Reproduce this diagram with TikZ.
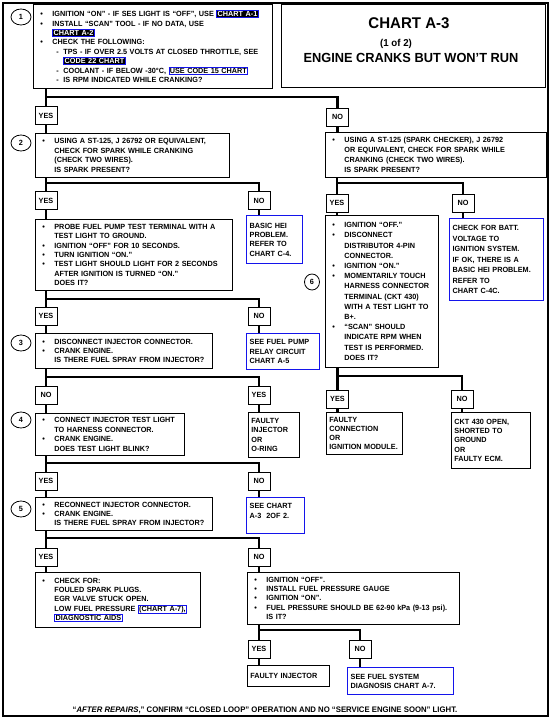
\documentclass[tikz,border=0pt]{standalone}
\usepackage{fontspec}
\setmainfont[FakeStretch=0.97]{Liberation Sans}
\usetikzlibrary{shapes.geometric}
\definecolor{hlblue}{RGB}{20,20,235}
\newcommand\chartfont{\fontsize{7.5}{9.4}\selectfont\bfseries}
\newcommand\bul{\makebox[16pt][l]{\hspace{4pt}\textbullet}}
\newcommand\ind{\hspace*{16pt}}
\newcommand\subd{\makebox[27pt][l]{\hspace{20pt}-}}
\newcommand\subind{\hspace*{27pt}}
\newcommand\hlinv[1]{{\setlength\fboxsep{0.4pt}\setlength\fboxrule{0.9pt}\fcolorbox{hlblue}{black}{\color{white}#1}}}
\newcommand\hlbox[1]{{\setlength\fboxsep{0.4pt}\setlength\fboxrule{0.9pt}\fcolorbox{hlblue}{white}{#1}}}
\tikzset{
  stepbox/.style={draw, line width=0.8pt, anchor=north west, align=left,
    inner xsep=3pt, inner ysep=2pt, font=\chartfont},
  refbox/.style={stepbox, draw=hlblue, line width=1.3pt},
  answer/.style={draw, line width=0.8pt, minimum width=22pt, minimum height=18pt,
    inner sep=0pt, font=\chartfont},
  stepnum/.style={draw, ellipse, line width=0.8pt, minimum width=20pt,
    minimum height=16pt, inner sep=0pt, font=\chartfont},
  conn/.style={line width=2.2pt},
}
\begin{document}
\begin{tikzpicture}[x=1pt,y=-1pt]
\useasboundingbox (0,0) rectangle (552,719);
\draw [line width=1.4pt] (3,3) rectangle (548,716);
% title
\draw [line width=0.9pt] (281,4) rectangle (545,87);
\node [font=\fontsize{15.5}{18}\selectfont\bfseries] (title) at (409,23) {CHART A-3};
\node [font=\fontsize{10}{12}\selectfont\bfseries] (part) at (396,44) {(1 of 2)};
\node [font=\fontsize{13.2}{15}\selectfont\bfseries] (subtitle) at (411,58) {ENGINE CRANKS BUT WON'T RUN};
% step numbers
\node [stepnum] (c1) at (21,17) {1};
\node [stepnum] (c2) at (21,143) {2};
\node [stepnum] (c3) at (21,343) {3};
\node [stepnum] (c4) at (21,420) {4};
\node [stepnum] (c5) at (21,509) {5};
\node [stepnum, minimum width=15pt] (c6) at (312,282) {6};
% steps
\node [stepbox, text width=233pt, minimum height=84pt] (s1) at (33,4)
  {\bul IGNITION ``ON'' - IF SES LIGHT IS ``OFF'', USE \hlinv{CHART A-1}\\
   \bul INSTALL ``SCAN'' TOOL - IF NO DATA, USE\\
   \ind\hlinv{CHART A-2}\\
   \bul CHECK THE FOLLOWING:\\
   \subd TPS - IF OVER 2.5 VOLTS AT CLOSED THROTTLE, SEE\\
   \subind\hlinv{CODE 22 CHART}\\
   \subd COOLANT - IF BELOW -30°C, \hlbox{USE CODE 15 CHART}\\
   \subd IS RPM INDICATED WHILE CRANKING?};
\node [stepbox, text width=188pt, minimum height=44pt] (s2) at (35,133)
  {\bul USING A ST-125, J 26792 OR EQUIVALENT,\\
   \ind CHECK FOR SPARK WHILE CRANKING\\
   \ind (CHECK TWO WIRES).\\
   \ind IS SPARK PRESENT?};
\node [stepbox, text width=215pt, minimum height=45pt,
  font=\fontsize{7.5}{10}\selectfont\bfseries] (s2r) at (325,132)
  {\bul USING A ST-125 (SPARK CHECKER), J 26792\\
   \ind OR EQUIVALENT, CHECK FOR SPARK WHILE\\
   \ind CRANKING (CHECK TWO WIRES).\\
   \ind IS SPARK PRESENT?};
\node [stepbox, text width=191pt, minimum height=71pt] (s3) at (35,219)
  {\bul PROBE FUEL PUMP TEST TERMINAL WITH A\\
   \ind TEST LIGHT TO GROUND.\\
   \bul IGNITION ``OFF'' FOR 10 SECONDS.\\
   \bul TURN IGNITION ``ON.''\\
   \bul TEST LIGHT SHOULD LIGHT FOR 2 SECONDS\\
   \ind AFTER IGNITION IS TURNED ``ON.''\\
   \ind DOES IT?};
\node [refbox, text width=50pt, minimum height=48pt] (hei) at (246,215)
  {BASIC HEI\\PROBLEM.\\REFER TO\\CHART C-4.};
\node [stepbox, text width=107pt, minimum height=152pt,
  font=\fontsize{7.5}{10.2}\selectfont\bfseries] (s6) at (325,215)
  {\bul IGNITION ``OFF.''\\
   \bul DISCONNECT\\
   \ind DISTRIBUTOR 4-PIN\\
   \ind CONNECTOR.\\
   \bul IGNITION ``ON.''\\
   \bul MOMENTARILY TOUCH\\
   \ind HARNESS CONNECTOR\\
   \ind TERMINAL (CKT 430)\\
   \ind WITH A TEST LIGHT TO\\
   \ind B+.\\
   \bul ``SCAN'' SHOULD\\
   \ind INDICATE RPM WHEN\\
   \ind TEST IS PERFORMED.\\
   \ind DOES IT?};
\node [refbox, text width=88pt, minimum height=82pt,
  font=\fontsize{7.5}{10.5}\selectfont\bfseries] (batt) at (449,218)
  {CHECK FOR BATT.\\VOLTAGE TO\\IGNITION SYSTEM.\\IF OK, THERE IS A\\
   BASIC HEI PROBLEM.\\REFER TO\\CHART C-4C.};
\node [stepbox, text width=171pt, minimum height=35pt] (s3b) at (35,333)
  {\bul DISCONNECT INJECTOR CONNECTOR.\\
   \bul CRANK ENGINE.\\
   \ind IS THERE FUEL SPRAY FROM INJECTOR?};
\node [refbox, text width=67pt, minimum height=36pt] (pump) at (246,333)
  {SEE FUEL PUMP\\RELAY CIRCUIT\\CHART A-5};
\node [stepbox, text width=143pt, minimum height=42pt] (s4) at (35,413)
  {\bul CONNECT INJECTOR TEST LIGHT\\
   \ind TO HARNESS CONNECTOR.\\
   \bul CRANK ENGINE.\\
   \ind DOES TEST LIGHT BLINK?};
\node [stepbox, text width=45pt, minimum height=45pt] (oring) at (248,412)
  {FAULTY\\INJECTOR\\OR\\O-RING};
\node [stepbox, text width=70pt, minimum height=42pt,
  font=\fontsize{7.5}{9}\selectfont\bfseries] (fconn) at (326,412)
  {FAULTY\\CONNECTION\\OR\\IGNITION MODULE.};
\node [stepbox, text width=73pt, minimum height=56pt] (ckt) at (451,412)
  {CKT 430 OPEN,\\SHORTED TO\\GROUND\\OR\\FAULTY ECM.};
\node [stepbox, text width=171pt, minimum height=33pt] (s5) at (35,497)
  {\bul RECONNECT INJECTOR CONNECTOR.\\
   \bul CRANK ENGINE.\\
   \ind IS THERE FUEL SPRAY FROM INJECTOR?};
\node [refbox, text width=52pt, minimum height=36pt] (other) at (246,497)
  {SEE CHART\\A-3~~2OF 2.\\~};
\node [stepbox, text width=159pt, minimum height=55pt] (plugs) at (35,572)
  {\bul CHECK FOR:\\
   \ind FOULED SPARK PLUGS.\\
   \ind EGR VALVE STUCK OPEN.\\
   \ind LOW FUEL PRESSURE \hlbox{(CHART A-7),}\\
   \ind\hlbox{DIAGNOSTIC AIDS}};
\node [stepbox, text width=206pt, minimum height=52pt] (gauge) at (247,572)
  {\bul IGNITION ``OFF''.\\
   \bul INSTALL FUEL PRESSURE GAUGE\\
   \bul IGNITION ``ON''.\\
   \bul FUEL PRESSURE SHOULD BE 62-90 kPa (9-13 psi).\\
   \ind IS IT?};
\node [stepbox, text width=76pt, minimum height=21pt] (finj) at (247,665)
  {FAULTY INJECTOR};
\node [refbox, text width=100pt, minimum height=27pt] (fsys) at (347,667)
  {SEE FUEL SYSTEM\\DIAGNOSIS CHART A-7.};
% answers
\node [answer] (y1) at (46,115.5) {YES};
\node [answer] (n1) at (337.5,117) {NO};
\node [answer] (y2) at (46,200.5) {YES};
\node [answer] (n2) at (259,200.5) {NO};
\node [answer] (y2r) at (337,203) {YES};
\node [answer] (n2r) at (463,203) {NO};
\node [answer] (y3) at (46,316) {YES};
\node [answer] (n3) at (259,316) {NO};
\node [answer] (n4) at (46,395) {NO};
\node [answer] (y4) at (259,395) {YES};
\node [answer] (y6) at (337.5,399) {YES};
\node [answer] (n6) at (462,399) {NO};
\node [answer] (y5) at (46,481) {YES};
\node [answer] (n5) at (259,481) {NO};
\node [answer] (y7) at (46,557) {YES};
\node [answer] (n7) at (259,557) {NO};
\node [answer] (y8) at (259,649) {YES};
\node [answer] (n8) at (360,649) {NO};
% junctions
\coordinate (j1) at (46,97);
\coordinate (j2) at (46,183);
\coordinate (j2r) at (337,183);
\coordinate (j3) at (46,299);
\coordinate (j4) at (46,377);
\coordinate (j6) at (337.5,376);
\coordinate (j5) at (46,463);
\coordinate (j7) at (46,538);
\coordinate (j8) at (259,630);
% connectors
\draw [conn] (s1.south -| y1) -- (y1.north);
\draw [conn] (j1) -| (n1.north);
\draw [conn] (y1.south) -- (y1.south |- s2.north);
\draw [conn] (n1.south) -- (n1.south |- s2r.north);
\draw [conn] (s2.south -| y2) -- (y2.north);
\draw [conn] (j2) -| (n2.north);
\draw [conn] (y2.south) -- (y2.south |- s3.north);
\draw [conn] (n2.south) -- (n2.south |- hei.north);
\draw [conn] (s2r.south -| y2r) -- (y2r.north);
\draw [conn] (j2r) -| (n2r.north);
\draw [conn] (y2r.south) -- (y2r.south |- s6.north);
\draw [conn] (n2r.south) -- (n2r.south |- batt.north);
\draw [conn] (s3.south -| y3) -- (y3.north);
\draw [conn] (j3) -| (n3.north);
\draw [conn] (y3.south) -- (y3.south |- s3b.north);
\draw [conn] (n3.south) -- (n3.south |- pump.north);
\draw [conn] (s3b.south -| n4) -- (n4.north);
\draw [conn] (j4) -| (y4.north);
\draw [conn] (n4.south) -- (n4.south |- s4.north);
\draw [conn] (y4.south) -- (y4.south |- oring.north);
\draw [conn] (s6.south -| y6) -- (y6.north);
\draw [conn] (j6) -| (n6.north);
\draw [conn] (y6.south) -- (y6.south |- fconn.north);
\draw [conn] (n6.south) -- (n6.south |- ckt.north);
\draw [conn] (s4.south -| y5) -- (y5.north);
\draw [conn] (j5) -| (n5.north);
\draw [conn] (y5.south) -- (y5.south |- s5.north);
\draw [conn] (n5.south) -- (n5.south |- other.north);
\draw [conn] (s5.south -| y7) -- (y7.north);
\draw [conn] (j7) -| (n7.north);
\draw [conn] (y7.south) -- (y7.south |- plugs.north);
\draw [conn] (n7.south) -- (n7.south |- gauge.north);
\draw [conn] (gauge.south -| y8) -- (y8.north);
\draw [conn] (j8) -| (n8.north);
\draw [conn] (y8.south) -- (y8.south |- finj.north);
\draw [conn] (n8.south) -- (n8.south |- fsys.north);
% footer
\node [font=\fontsize{8}{10}\selectfont\bfseries] (repairs) at (265,710)
  {``\textit{AFTER REPAIRS},'' CONFIRM ``CLOSED LOOP'' OPERATION AND NO ``SERVICE ENGINE SOON'' LIGHT.};
\end{tikzpicture}
\end{document}
